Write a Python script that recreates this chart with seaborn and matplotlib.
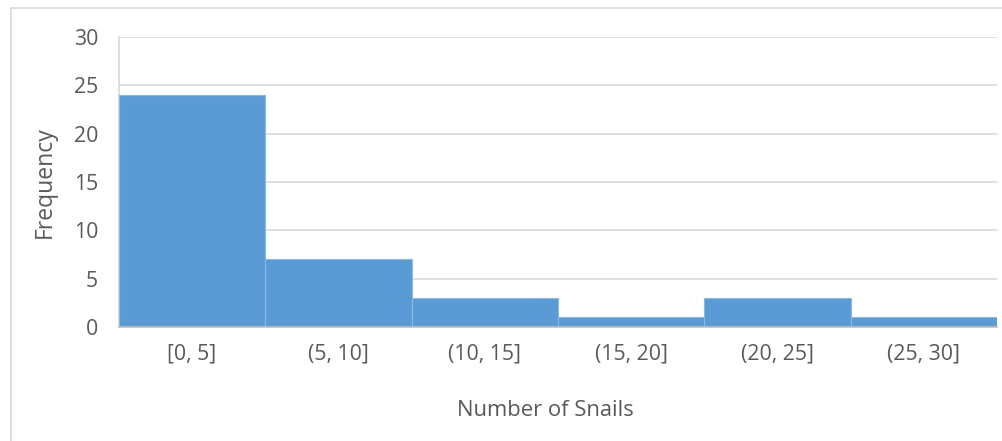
import matplotlib
matplotlib.use("Agg")
import matplotlib.pyplot as plt
import seaborn as sns
import pandas as pd
from matplotlib.patches import Rectangle

# histogram bins and counts
bins = ["[0, 5]", "(5, 10]", "(10, 15]", "(15, 20]", "(20, 25]", "(25, 30]"]
counts = [24, 7, 3, 1, 3, 1]
y_ticks = [0, 5, 10, 15, 20, 25, 30]

df = pd.DataFrame({"bin": bins, "count": counts})

sns.set_style("white")
plt.rcParams["font.family"] = ["Open Sans", "DejaVu Sans"]

fig = plt.figure(figsize=(10.03, 4.41), dpi=100)
ax = fig.add_axes([0.1186, 0.2585, 0.8754, 0.6575])

sns.barplot(data=df, x="bin", y="count", color="#5B9BD5", saturation=1,
            width=1.0, edgecolor="#8DB8E2", linewidth=0.8, ax=ax, zorder=3)

ax.set_xlim(-0.5, len(bins) - 0.5)
ax.set_ylim(0, 30)
ax.set_yticks(y_ticks)
ax.yaxis.grid(True, color="#D9D9D9", linewidth=1.2, zorder=0)
ax.set_axisbelow(True)

for s in ["top", "right"]:
    ax.spines[s].set_visible(False)
ax.spines["left"].set_color("#D9D9D9")
ax.spines["left"].set_linewidth(1.2)
ax.spines["bottom"].set_color("#BFBFBF")
ax.spines["bottom"].set_linewidth(1.2)
ax.spines["bottom"].set_zorder(4)

ax.tick_params(axis="both", length=0, labelsize=15.3, labelcolor="#595959")
ax.tick_params(axis="x", pad=12)
ax.tick_params(axis="y", pad=15)

ax.set_xlabel("Number of Snails", fontsize=15.8, color="#595959")
ax.xaxis.set_label_coords(0.4854, -0.252)
ax.set_ylabel("Frequency", fontsize=16.5, color="#595959", labelpad=12)

# outer chart border (Excel chart area)
fig.patches.append(Rectangle((0.0105, -0.05), 1.2, 1.032, transform=fig.transFigure,
                             fill=False, edgecolor="#D9D9D9", linewidth=1.2))

fig.savefig("out.png", dpi=100)
